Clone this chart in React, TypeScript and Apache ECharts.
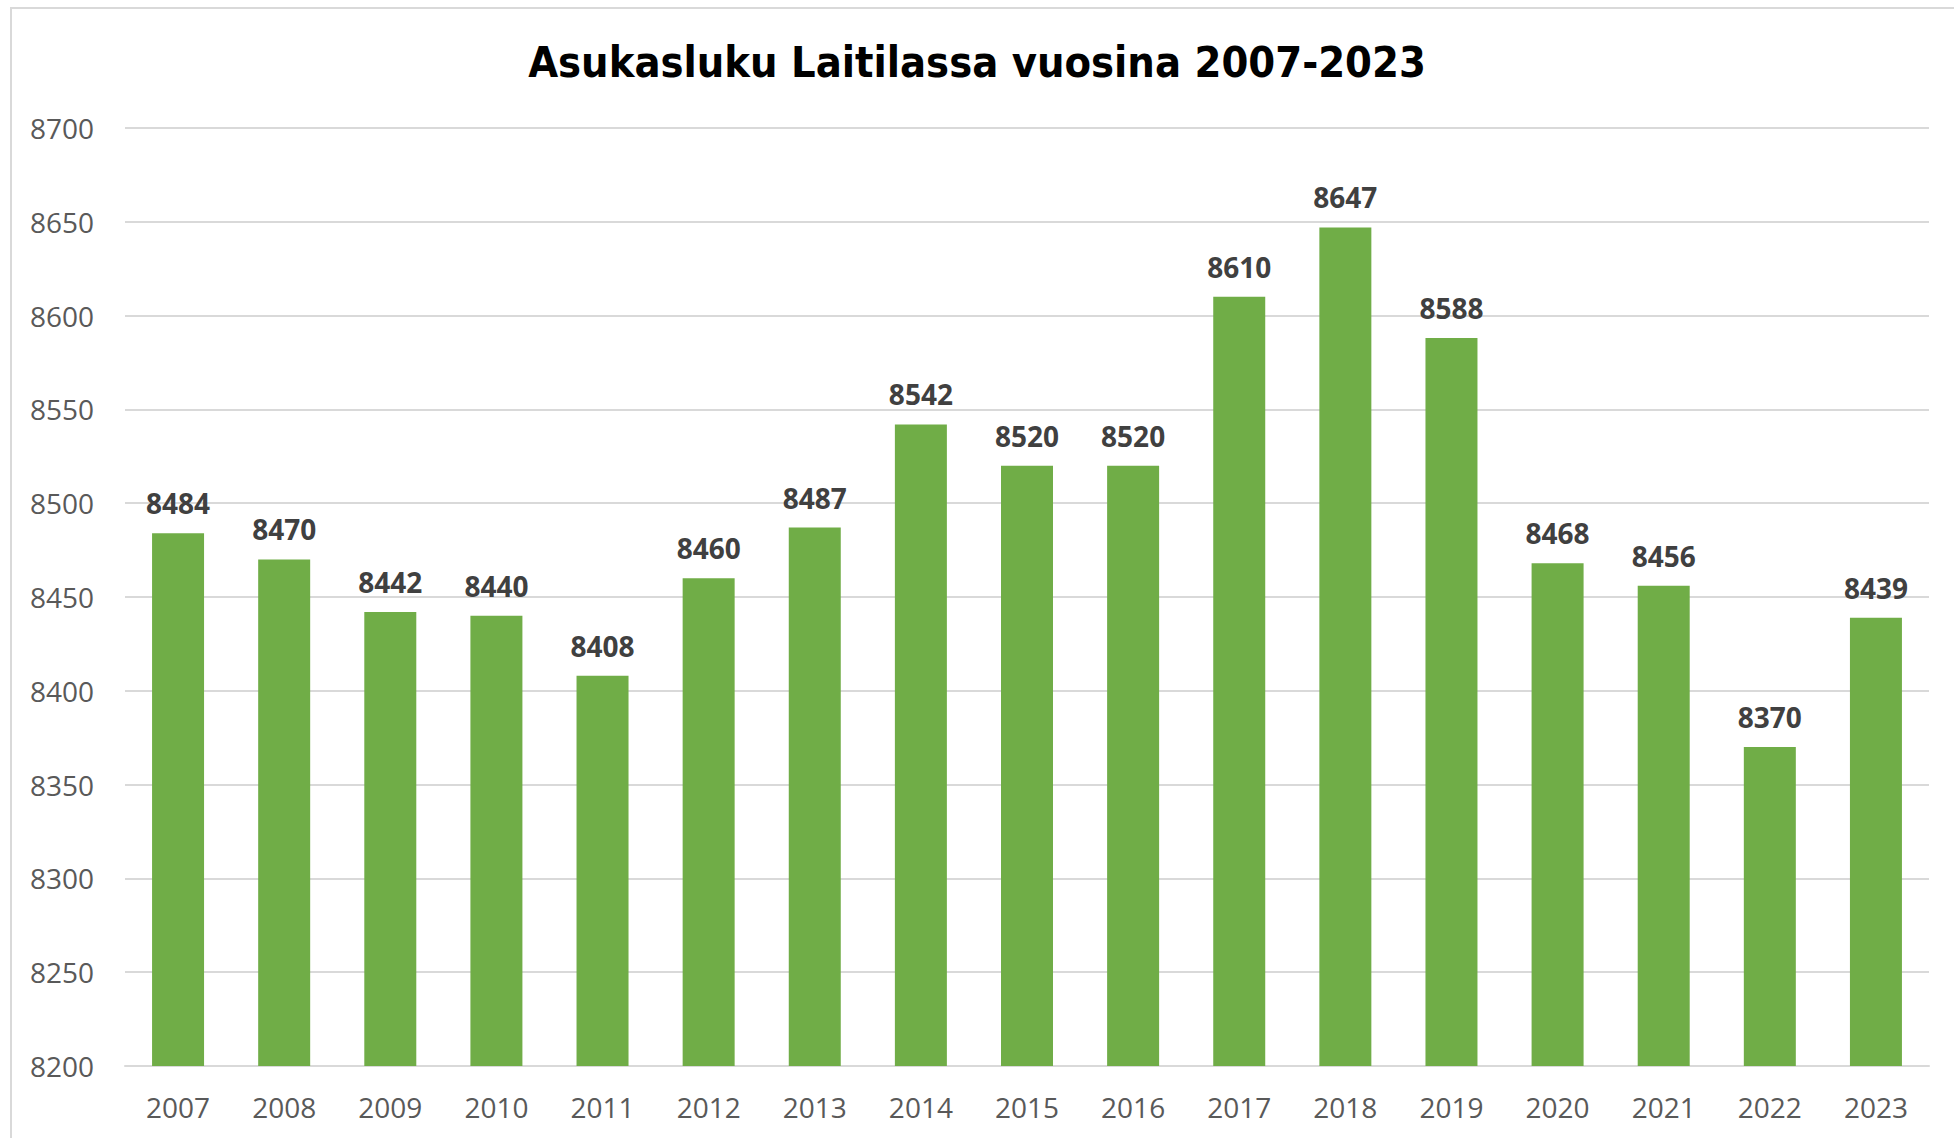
import React, { useEffect, useRef } from "react";
import * as echarts from "echarts";

const years = ["2007","2008","2009","2010","2011","2012","2013","2014","2015","2016","2017","2018","2019","2020","2021","2022","2023"];
const population = [8484, 8470, 8442, 8440, 8408, 8460, 8487, 8542, 8520, 8520, 8610, 8647, 8588, 8468, 8456, 8370, 8439];
const yMin = 8200;
const yMax = 8700;
const yStep = 50;
const titleText = "Asukasluku Laitilassa vuosina 2007-2023";

export default function App() {
  const ref = useRef<HTMLDivElement>(null);
  useEffect(() => {
    if (!ref.current) return;
    const chart = echarts.init(ref.current, null, { renderer: "svg" });
    const numFont = "'Open Sans', 'Liberation Sans', sans-serif";
    chart.setOption({
      animation: false,
      backgroundColor: "#ffffff",
      title: {
        text: titleText,
        left: "center",
        top: 35,
        textStyle: {
          fontFamily: "'Liberation Sans Narrow', 'DejaVu Sans Condensed', 'Open Sans', sans-serif",
          fontWeight: "bold",
          fontSize: 43,
          color: "#000000",
        },
      },
      graphic: [
        {
          type: "rect",
          shape: { x: 11, y: 8, width: 2000, height: 1200 },
          style: { fill: "none", stroke: "#d9d9d9", lineWidth: 2 },
          silent: true,
          z: -1,
        },
      ],
      grid: { left: 125, right: 25, top: 128, bottom: 72, containLabel: false },
      xAxis: {
        type: "category",
        data: years,
        axisLine: { show: true, lineStyle: { color: "#d9d9d9", width: 2 } },
        axisTick: { show: false },
        axisLabel: { color: "#595959", fontSize: 28, fontFamily: numFont, margin: 27 },
      },
      yAxis: {
        type: "value",
        min: yMin,
        max: yMax,
        interval: yStep,
        axisLine: { show: false },
        axisTick: { show: false },
        splitLine: { lineStyle: { color: "#d9d9d9", width: 2 } },
        axisLabel: {
          color: "#595959",
          fontSize: 28,
          fontFamily: numFont,
          margin: 31,
          formatter: (v: number) => String(v),
        },
      },
      series: [
        {
          type: "bar",
          data: population,
          barWidth: "49%",
          itemStyle: { color: "#70ad47" },
          label: {
            show: true,
            position: "top",
            distance: 16,
            color: "#404040",
            fontWeight: "bold",
            fontSize: 28,
            fontFamily: numFont,
          },
        },
      ],
    });
    return () => chart.dispose();
  }, []);
  return (
    <div
      ref={ref}
      style={{ position: "fixed", left: 0, top: 0, width: 1954, height: 1138 }}
    />
  );
}
